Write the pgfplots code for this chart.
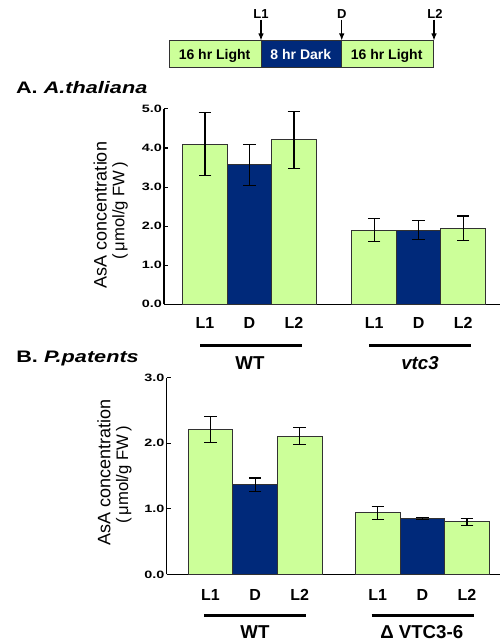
\documentclass[border=0pt]{standalone}
\usepackage{fontspec}
\setmainfont{Liberation Sans}
\usepackage{pgfplots}
\pgfplotsset{compat=1.18}
\usepackage{pgfplotstable}
\usetikzlibrary{arrows.meta}
\definecolor{lgreen}{RGB}{204,255,153}
\definecolor{dblue}{RGB}{0,41,122}
\definecolor{edge}{RGB}{50,50,50}

\pgfplotstableread{
x y e
0 4.10 0.81
2 4.21 0.73
3.8 1.90 0.30
5.8 1.95 0.31
}\Agreen
\pgfplotstableread{
x y e
1 3.57 0.53
4.8 1.90 0.25
}\Ablue
\pgfplotstableread{
x y e
0 2.21 0.205
2 2.11 0.125
3.75 0.94 0.10
5.75 0.80 0.05
}\Bgreen
\pgfplotstableread{
x y e
1 1.37 0.10
4.75 0.85 0.02
}\Bblue

\pgfplotsset{
  panel/.style={
    anchor=south west, scale only axis,
    axis lines*=left,
    axis line style={line width=1pt, black},
    ybar, bar width=1,
    x tick style={draw=none},
    y tick style={line width=0.8pt, black},
    tick align=inside, major tick length=3pt,
    yticklabel style={font=\bfseries\fontsize{8}{9}\selectfont, xscale=1.35, inner sep=1pt},
    xticklabel style={font=\bfseries\fontsize{12}{13}\selectfont, anchor=center},
    clip=false,
  },
  barstyle/.style={bar shift=0pt, draw=edge, line width=0.75pt,
    error bars/.cd, y dir=both, y explicit,
    error bar style={black, line width=0.8pt},
    error mark options={rotate=90, black, line width=0.8pt, mark size=4.7pt}},
}

\begin{document}
\begin{tikzpicture}
\useasboundingbox (0,0) rectangle (376.5pt,482.25pt);

% timeline
\draw[edge, line width=0.75pt, fill=lgreen] (126.75pt,431.8pt) rectangle (195.75pt,451.7pt);
\draw[edge, line width=0.75pt, fill=dblue] (195.75pt,431.8pt) rectangle (256.3pt,451.7pt);
\draw[edge, line width=0.75pt, fill=lgreen] (256.3pt,431.8pt) rectangle (325pt,451.7pt);
\node[anchor=base, font=\bfseries\fontsize{10.5}{11}\selectfont, inner sep=0pt] at (160.9pt,437.8pt) {16 hr Light};
\node[anchor=base, font=\bfseries\fontsize{10.5}{11}\selectfont, inner sep=0pt, text=white] at (225.6pt,437.8pt) {8 hr Dark};
\node[anchor=base, font=\bfseries\fontsize{10.5}{11}\selectfont, inner sep=0pt] at (290pt,437.8pt) {16 hr Light};
\foreach \xx/\lab/\lx in {195.75pt/L1/195.75pt, 256.3pt/D/256.3pt, 325.5pt/L2/326.25pt}{
  \draw[line width=1.1pt, -{Latex[length=5.5pt,width=4.2pt]}] (\xx,467.5pt) -- (\xx,451.7pt);
  \node[anchor=base, font=\bfseries\fontsize{9.75}{10}\selectfont, inner sep=0pt] at (\lx,468.2pt) {\lab};
}

% titles
\node[anchor=base west, inner sep=0pt, xscale=1.3, font=\bfseries\fontsize{12.5}{13}\selectfont] at (11.8pt,412.3pt) {A. \textit{A.thaliana}};
\node[anchor=base west, inner sep=0pt, xscale=1.3, font=\bfseries\fontsize{12.5}{13}\selectfont] at (12pt,210.2pt) {B. \textit{P.patents}};

% y labels
\node[rotate=90, inner sep=0pt, font=\fontsize{13.5}{14}\selectfont] at (75.2pt,321.0pt) {AsA concentration};
\node[rotate=90, inner sep=0pt, font=\fontsize{12.5}{13}\selectfont] at (90pt,324.1pt) {(\,μmol/g FW\,)};
\node[rotate=90, inner sep=0pt, font=\fontsize{13.5}{14}\selectfont] at (78pt,128.0pt) {AsA concentration};
\node[rotate=90, inner sep=0pt, font=\fontsize{12.5}{13}\selectfont] at (92.8pt,126.0pt) {(\,μmol/g FW\,)};

% Panel A
\begin{axis}[panel,
  at={(123pt,254.03pt)}, width=252pt, height=146.5pt,
  xmin=-0.921, xmax=6.629, ymin=0, ymax=5,
  ytick={0,1,2,3,4,5}, yticklabels={0.0,1.0,2.0,3.0,4.0,5.0},
  xtick={0,1,2,3.8,4.8,5.8}, xticklabels={L1,D,L2,L1,D,L2},
  xticklabel style={yshift=-14.25pt},
]
\addplot[fill=lgreen, barstyle] table[x=x, y=y, y error=e] {\Agreen};
\addplot[fill=dblue, barstyle] table[x=x, y=y, y error=e] {\Ablue};
\end{axis}

% Panel B
\begin{axis}[panel,
  at={(125pt,51.5pt)}, width=250pt, height=147.45pt,
  xmin=-0.982, xmax=6.49, ymin=0, ymax=3,
  ytick={0,1,2,3}, yticklabels={0.0,1.0,2.0,3.0},
  xtick={0,1,2,3.75,4.75,5.75}, xticklabels={L1,D,L2,L1,D,L2},
  xticklabel style={yshift=-15.5pt},
]
\addplot[fill=lgreen, barstyle] table[x=x, y=y, y error=e] {\Bgreen};
\addplot[fill=dblue, barstyle] table[x=x, y=y, y error=e] {\Bblue};
\end{axis}

% group lines and labels
\draw[line width=1.8pt] (150pt,222.98pt) -- (226.3pt,222.98pt);
\draw[line width=1.8pt] (276.75pt,222.98pt) -- (353.25pt,222.98pt);
\node[font=\bfseries\fontsize{14}{15}\selectfont, inner sep=0pt] at (187.5pt,210.2pt) {WT};
\node[font=\bfseries\itshape\fontsize{14}{15}\selectfont, inner sep=0pt] at (315pt,210pt) {vtc3};
\draw[line width=1.8pt] (153pt,20.5pt) -- (229.3pt,20.5pt);
\draw[line width=1.8pt] (278.8pt,20.5pt) -- (355.5pt,20.5pt);
\node[font=\bfseries\fontsize{14}{15}\selectfont, inner sep=0pt] at (191.25pt,8.0pt) {WT};
\node[font=\bfseries\fontsize{14}{15}\selectfont, inner sep=0pt] at (316.3pt,8.0pt) {Δ VTC3-6};
\end{tikzpicture}
\end{document}
